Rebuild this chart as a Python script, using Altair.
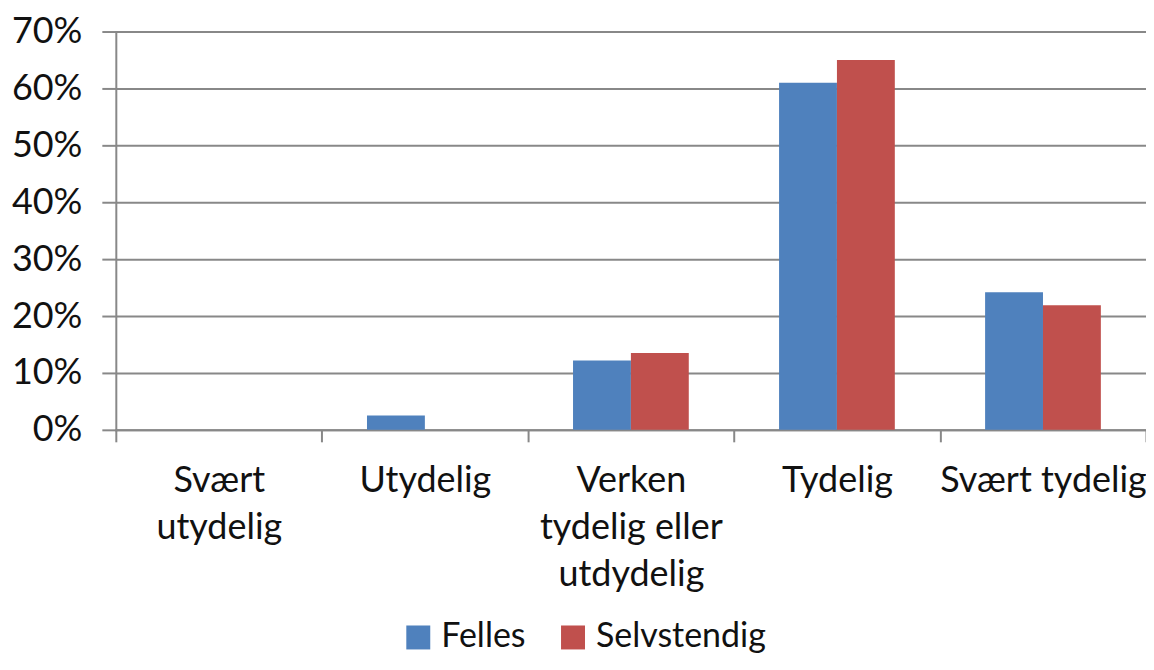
import altair as alt
import pandas as pd

categories = ["Svært utydelig", "Utydelig", "Verken tydelig eller utdydelig", "Tydelig", "Svært tydelig"]
label_lines = {
    "Svært utydelig": ["Svært", "utydelig"],
    "Verken tydelig eller utdydelig": ["Verken", "tydelig eller", "utdydelig"],
}
series = ["Felles", "Selvstendig"]
felles = [0.0, 0.025, 0.122, 0.610, 0.242]
selvstendig = [0.0, 0.0, 0.135, 0.650, 0.219]
colors = ["#4F81BD", "#C0504D"]

rows = []
for c, f, s in zip(categories, felles, selvstendig):
    rows.append({"kategori": c, "serie": "Felles", "andel": f})
    rows.append({"kategori": c, "serie": "Selvstendig", "andel": s})
df = pd.DataFrame(rows)

expr = "datum.value"
for k, v in label_lines.items():
    expr = f"datum.value == '{k}' ? {v!r} : ({expr})"

FONT = "Lato"

chart = alt.Chart(df).mark_bar().encode(
    x=alt.X("kategori:N", sort=categories, title=None,
            scale=alt.Scale(paddingInner=0, paddingOuter=0),
            axis=alt.Axis(labelAngle=0, labelExpr=expr, tickBand="extent",
                          labelFontSize=36, labelLineHeight=47, labelPadding=22,
                          labelBaseline="top", labelColor="#111", labelFont=FONT,
                          domainColor="#888", domainWidth=2, tickColor="#888",
                          tickWidth=2, tickSize=12, grid=False, labelLimit=400)),
    xOffset=alt.XOffset("serie:N", sort=series,
                        scale=alt.Scale(paddingInner=0, paddingOuter=0.78)),
    y=alt.Y("andel:Q", title=None,
            scale=alt.Scale(domain=[0, 0.7], nice=False),
            axis=alt.Axis(format=".0%", values=[0, 0.1, 0.2, 0.3, 0.4, 0.5, 0.6, 0.7],
                          labelFontSize=36, labelFont=FONT, labelColor="#111",
                          labelPadding=20, tickSize=14, tickColor="#888", tickWidth=2,
                          domainColor="#888", domainWidth=2,
                          grid=True, gridColor="#888", gridWidth=2)),
    color=alt.Color("serie:N", sort=series,
                    scale=alt.Scale(domain=series, range=colors),
                    legend=alt.Legend(title=None, orient="none", direction="horizontal",
                                      legendX=286, legendY=590, symbolType="square",
                                      symbolSize=576, symbolStrokeWidth=0,
                                      labelFontSize=34, labelFont=FONT, labelColor="#111",
                                      labelOffset=6, columnPadding=30, padding=0,
                                      labelLimit=500)),
).properties(
    width=1032, height=399,
    autosize=alt.AutoSizeParams(type="none"),
    padding={"left": 108, "top": 23, "right": 0, "bottom": 232},
).configure_view(stroke=None).configure_axis(domainCap="square")

chart.save("out.html", embed_options={"renderer": "svg", "actions": False})
